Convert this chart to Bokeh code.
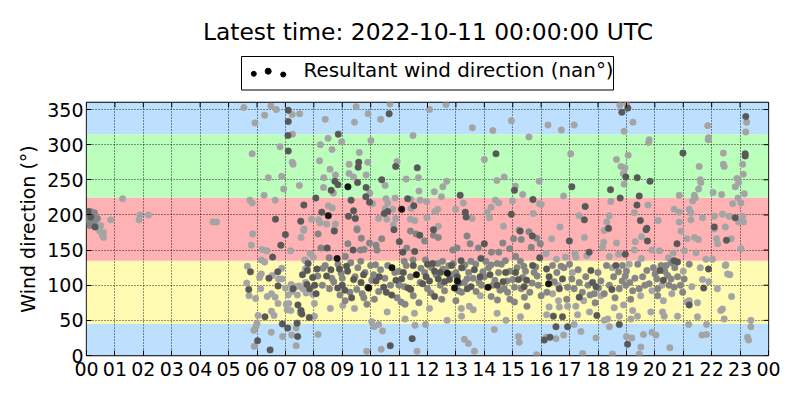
from bokeh.plotting import figure
from bokeh.models import FixedTicker, Range1d
from bokeh.layouts import column
from bokeh.embed import file_html
from bokeh.resources import INLINE
from bokeh.core.properties import value

FONT = "DejaVu Sans"

title_text = "Latest time: 2022-10-11 00:00:00 UTC"
legend_label = "Resultant wind direction (nan°)"
y_label = "Wind direction (°)"

hour_ticks = list(range(0, 25))
hour_labels = ["%02d" % (h % 24) for h in hour_ticks]
dir_ticks = [0, 50, 100, 150, 200, 250, 300, 350]

band_bottoms = [0, 45, 135, 225, 315]
band_tops = [45, 135, 225, 315, 360]
band_colors = ["#bde0fe", "#fffbb2", "#ffb2b4", "#bcffbc", "#bde0fe"]

# (hour of day, wind direction in degrees) grouped by marker shade
light_pts = [
    (0.35, 185), (0.45, 178), (0.5, 185), (0.55, 172), (0.6, 175), (0.6, 168), (0.42, 181),
    (0.85, 193), (1.27, 223), (1.88, 200), (2.18, 200), (1.85, 193), (4.45, 190), (4.58, 190),
    (5.54, 353), (6.27, 342), (5.93, 331), (6.49, 355), (6.68, 350), (7.24, 343), (7.5, 344),
    (7.25, 315), (6.81, 297), (5.83, 287), (7.24, 275), (7.27, 272), (6.4, 253), (6.87, 255),
    (7.49, 242), (6.94, 237), (6.25, 228), (5.75, 221), (5.83, 217), (6.64, 221), (7.92, 194),
    (7.65, 180), (5.85, 173), (5.8, 157), (7.64, 178), (7.55, 168), (6.18, 151), (6.34, 149),
    (7.18, 149), (6.15, 136), (6.27, 133), (7.71, 135), (7.98, 140), (5.66, 127), (5.64, 103),
    (5.72, 85), (5.95, 81), (6.09, 111), (6.13, 95), (6.15, 116), (6.54, 114), (6.76, 109),
    (6.87, 124), (6.88, 109), (6.36, 84), (6.51, 88), (6.64, 83), (6.74, 74), (6.51, 63),
    (6.6, 57), (6.04, 57), (6.0, 46), (5.96, 41), (5.89, 36), (5.9, 13), (6.5, 33), (6.9, 27),
    (7.22, 29), (7.38, 14), (7.38, 39), (7.12, 74), (7.03, 73), (7.19, 64), (7.52, 61),
    (8.02, 56), (7.06, 65), (7.0, 96), (7.23, 91), (7.42, 86), (7.2, 101), (7.37, 98),
    (7.48, 99), (7.61, 95), (7.73, 89), (7.71, 104), (7.96, 87), (8.02, 74), (7.68, 136),
    (7.87, 145), (7.7, 123), (7.76, 125), (7.1, 86),
    (9.49, 354), (10.68, 358), (9.91, 344), (10.35, 336), (8.4, 336), (9.43, 332), (12.07, 350),
    (12.65, 357), (13.58, 324), (14.3, 320), (14.95, 334), (15.57, 311), (11.49, 313), (8.5, 309),
    (8.98, 304), (8.23, 300), (10.01, 306), (8.64, 293), (9.6, 289), (14.0, 279), (8.2, 277),
    (9.24, 272), (9.9, 275), (10.93, 276), (8.57, 265), (9.24, 259), (8.76, 257), (9.4, 254),
    (9.84, 257), (8.35, 253), (10.51, 242), (11.25, 251), (11.68, 253), (12.68, 248), (12.54, 240),
    (12.24, 233), (11.7, 234), (8.69, 231), (9.97, 231), (8.34, 239), (14.44, 249), (14.7, 254),
    (15.09, 241), (15.35, 229), (15.93, 248), (12.49, 226), (10.54, 223), (10.86, 224), (11.41, 222),
    (11.74, 221), (11.97, 219), (10.07, 216), (10.6, 217), (13.26, 217), (14.39, 221), (14.51, 217),
    (14.99, 220), (15.94, 216), (8.51, 213), (8.65, 210), (8.17, 193), (8.22, 189), (8.45, 187),
    (8.76, 187), (10.51, 209), (10.78, 208), (11.42, 209), (10.88, 195), (10.57, 194), (10.28, 195),
    (11.4, 194), (11.55, 192), (11.98, 196), (12.26, 205), (12.36, 208), (12.99, 208), (13.57, 195),
    (14.1, 204), (14.18, 196), (14.24, 211), (15.72, 202), (16.0, 215), (10.8, 186), (12.38, 184),
    (9.52, 181), (8.72, 179), (14.67, 184), (15.21, 179),
    (14.45, 60), (15.27, 55), (14.76, 50), (8.58, 67), (9.02, 71), (9.43, 67), (10.58, 62),
    (11.21, 52), (11.54, 60), (12.07, 67), (12.69, 50), (13.19, 67), (13.2, 56), (13.47, 70),
    (13.61, 65), (13.86, 85), (10.04, 48), (10.12, 41), (10.28, 44), (10.42, 35), (11.56, 43),
    (11.93, 44), (8.15, 30), (13.3, 23), (13.44, 17), (14.35, 37), (15.2, 27), (15.23, 19),
    (9.86, 6), (10.37, 9), (11.63, 6), (13.65, 6), (15.84, 1),
    (16.24, 328), (16.71, 321), (17.16, 328), (18.77, 356), (19.01, 358), (19.23, 332), (18.92, 319),
    (19.8, 307), (19.78, 303), (21.86, 327), (21.89, 310), (21.88, 307), (23.23, 332), (23.2, 318),
    (17.04, 287), (18.65, 279), (19.06, 285), (18.81, 269), (18.95, 267), (18.89, 259), (18.92, 244),
    (22.41, 288), (21.56, 269), (22.41, 272), (22.44, 269), (23.09, 272), (23.11, 258), (21.6, 250),
    (21.62, 246), (21.54, 237), (22.89, 252), (22.95, 246), (22.83, 240), (23.15, 230), (16.79, 227),
    (18.45, 219), (20.86, 228), (21.39, 228), (21.42, 224), (21.33, 220), (22.05, 232), (22.35, 229),
    (22.93, 224), (23.03, 217), (22.74, 216), (19.76, 214), (19.28, 203), (20.68, 208), (20.86, 204),
    (21.21, 208), (21.27, 203), (17.34, 199), (18.4, 199), (18.31, 190), (20.12, 192), (20.86, 190),
    (21.27, 193), (21.68, 196), (22.09, 198), (22.38, 201), (22.62, 198), (23.09, 198), (23.12, 190),
    (22.95, 190), (16.66, 183), (22.48, 183),
    (16.37, 166), (17.52, 168), (18.2, 161), (18.22, 178), (18.37, 180), (18.65, 160), (19.31, 162),
    (19.53, 169), (20.92, 177), (21.13, 166), (21.39, 168), (21.53, 165), (22.09, 180), (22.17, 166),
    (22.21, 159), (22.69, 166), (23.03, 152), (16.17, 145), (16.54, 137), (16.85, 140), (17.19, 145),
    (17.22, 140), (17.61, 142), (18.16, 154), (18.4, 141), (18.72, 144), (19.28, 150), (19.53, 138),
    (19.9, 150), (20.16, 149), (20.48, 139), (20.65, 146), (21.04, 149), (21.45, 146), (21.8, 137),
    (22.03, 137), (22.5, 129), (22.64, 115), (21.13, 76), (21.21, 78), (21.5, 75), (21.68, 108),
    (20.8, 56), (20.33, 56), (20.27, 62), (19.86, 62), (19.39, 56), (19.22, 64), (19.16, 52),
    (18.57, 68), (18.75, 56), (18.34, 52), (18.22, 50), (17.28, 58), (17.22, 70), (16.93, 70),
    (16.19, 58), (16.28, 69), (16.64, 69), (16.61, 78), (17.16, 44), (17.4, 34), (16.79, 29),
    (16.17, 26), (16.52, 24), (17.93, 25), (18.4, 41), (19.0, 27), (19.19, 25), (19.51, 12),
    (19.6, 30), (19.9, 33), (20.04, 29), (20.53, 11), (21.19, 44), (21.66, 29), (21.82, 30),
    (21.82, 44), (22.32, 64), (22.38, 66), (22.44, 52), (22.48, 128), (22.56, 116), (23.38, 50),
    (23.38, 41), (23.26, 26), (23.3, 22), (17.46, 3), (18.51, 2), (19.45, 2),
    (16.6, 100), (17.1, 118), (17.5, 78), (18.1, 85), (18.5, 125), (19.1, 130), (19.5, 85),
    (19.9, 92), (20.25, 100), (20.6, 88), (21.0, 120), (21.3, 98), (21.6, 125), (21.9, 105),
    (22.2, 95), (20.3, 78), (18.9, 72), (17.7, 62), (16.4, 88), (21.5, 55), (22.7, 84),
]

mid_pts = [
    (0.05, 200), (0.1, 195), (0.15, 205), (0.2, 200), (0.25, 198), (0.1, 190), (0.2, 188),
    (0.3, 192), (0.38, 195), (0.05, 193), (0.28, 203), (0.12, 185),
    (8.15, 173), (9.2, 159), (9.52, 179), (9.67, 167), (9.96, 160), (8.25, 153), (9.64, 150),
    (9.77, 151), (10.22, 150), (10.19, 157), (10.39, 166), (11.27, 153), (11.4, 177), (11.6, 173),
    (11.9, 163), (12.21, 171), (12.38, 168), (12.89, 150), (13.04, 153), (13.39, 170), (13.5, 159),
    (13.79, 153), (14.25, 147), (14.51, 147), (14.65, 160), (14.89, 152), (15.3, 165), (15.03, 166),
    (15.57, 176), (15.84, 167), (15.65, 154), (15.97, 159), (8.54, 139), (9.11, 141), (9.65, 134),
    (10.17, 129), (11.18, 134), (11.49, 136), (11.77, 124), (11.93, 136), (12.36, 131), (12.53, 134),
    (12.91, 131), (13.32, 129), (13.53, 134), (14.05, 134), (14.24, 129), (14.45, 131), (14.74, 135),
    (15.1, 141), (15.27, 134), (15.39, 127), (15.81, 126), (8.32, 124), (8.63, 110), (8.96, 117),
    (8.14, 113), (8.55, 95), (8.92, 86), (9.27, 90), (9.51, 94), (9.76, 82), (10.04, 107),
    (10.28, 91), (10.13, 80), (9.87, 73), (10.99, 120), (11.19, 98), (10.93, 82), (11.07, 76),
    (11.21, 73), (11.74, 104), (12.12, 89), (12.54, 123), (12.65, 119), (13.2, 90), (13.3, 104),
    (13.39, 109), (13.71, 91), (13.81, 105), (13.95, 119), (14.24, 84), (14.37, 107), (14.46, 79),
    (14.55, 93), (14.8, 106), (15.06, 97), (15.35, 111), (15.68, 103), (15.86, 113), (16.0, 85),
    (15.41, 83), (15.06, 76), (14.82, 90),
    (8.3, 100), (8.4, 128), (8.7, 105), (8.85, 130), (9.0, 110), (9.3, 132), (9.45, 112),
    (9.55, 125), (9.8, 118), (10.0, 128), (10.1, 115), (10.35, 122), (10.5, 110), (10.6, 128),
    (10.85, 118), (11.0, 100), (11.25, 128), (11.4, 112), (11.5, 85), (11.9, 118), (12.0, 95),
    (12.15, 125), (12.3, 115), (12.45, 100), (12.6, 92), (12.75, 128), (12.85, 115), (13.0, 118),
    (13.1, 92), (13.25, 125), (13.45, 118), (13.6, 110), (13.7, 130), (13.9, 100), (14.0, 112),
    (14.15, 125), (14.3, 100), (14.5, 118), (14.6, 130), (14.7, 95), (14.9, 120), (15.0, 108),
    (15.15, 125), (15.3, 95), (15.45, 120), (15.6, 90), (15.75, 118), (15.9, 100), (9.1, 78),
    (10.7, 100), (12.5, 80), (13.0, 78), (14.9, 80), (15.5, 70), (11.7, 75), (9.7, 88),
    (16.4, 128), (16.7, 127), (16.46, 105), (16.93, 97), (17.08, 109), (17.16, 95), (17.34, 104),
    (17.57, 112), (18.1, 106), (17.72, 86), (17.87, 88), (18.02, 96), (18.22, 88), (18.55, 112),
    (18.72, 119), (18.86, 128), (18.96, 113), (19.12, 104), (18.98, 100), (18.75, 95), (19.22, 92),
    (19.45, 95), (19.57, 112), (19.72, 121), (19.8, 102), (20.01, 116), (20.22, 128), (20.07, 109),
    (20.1, 95), (20.45, 114), (20.57, 109), (20.68, 97), (20.57, 132), (20.8, 112), (20.98, 90),
    (21.03, 109), (21.21, 130),
    (16.2, 90), (16.55, 118), (16.8, 125), (17.0, 130), (17.3, 122), (17.45, 90), (17.65, 100),
    (18.0, 118), (18.3, 128), (18.4, 100), (18.6, 82), (18.85, 106), (19.0, 120), (19.3, 110),
    (19.4, 130), (19.65, 100), (19.95, 125), (20.1, 85), (20.35, 120), (20.5, 100), (20.7, 125),
    (20.9, 100), (20.4, 128), (19.15, 80), (17.9, 75), (16.9, 80),
]

dark_pts = [
    (0.05, 205), (0.15, 197), (0.3, 183),
    (7.1, 349), (7.1, 333), (7.09, 313), (7.1, 291), (7.65, 214), (6.65, 194), (7.54, 191),
    (8.07, 224), (7.0, 172), (6.84, 157), (6.55, 140), (5.77, 119), (5.71, 94), (6.42, 110),
    (6.73, 119), (6.74, 99), (6.28, 55), (6.02, 21), (6.46, 8), (6.89, 45), (7.08, 39),
    (7.43, 27), (7.41, 46), (7.58, 59), (7.84, 54), (7.55, 64), (7.44, 72), (7.27, 95),
    (7.76, 101), (7.85, 95), (8.03, 100), (7.6, 115), (7.77, 121), (7.8, 131), (7.96, 111),
    (8.11, 123),
    (10.65, 344), (8.86, 315), (14.41, 287), (9.58, 275), (9.56, 268), (10.88, 269), (11.64, 267),
    (8.74, 248), (8.85, 243), (9.54, 246), (10.39, 250), (9.84, 239), (8.61, 235), (15.06, 235),
    (13.15, 228), (9.83, 226), (9.31, 221), (11.3, 223), (9.96, 218), (15.71, 222), (8.28, 204),
    (9.4, 206), (9.22, 198), (9.46, 195), (10.6, 205), (10.48, 202), (11.52, 213), (13.33, 204),
    (13.36, 197), (14.95, 201),
    (8.72, 177), (8.47, 153), (9.38, 150), (10.82, 179), (11.01, 162), (11.13, 147), (11.55, 148),
    (11.73, 171), (12.21, 179), (14.0, 159), (15.26, 177), (15.69, 170), (12.18, 131), (13.18, 135),
    (13.88, 138), (15.95, 139), (8.45, 113), (9.15, 127), (9.19, 120), (8.9, 123), (8.08, 88),
    (8.84, 96), (9.09, 93), (9.33, 82), (9.66, 104), (9.9, 97), (10.19, 106), (10.46, 97),
    (10.74, 86), (10.89, 107), (11.09, 109), (11.32, 96), (11.41, 94), (11.83, 102), (12.07, 106),
    (12.25, 84), (12.38, 109), (12.77, 108), (13.09, 103), (13.53, 98), (14.66, 105), (15.2, 108),
    (15.49, 107), (11.46, 24), (10.69, 14),
    (8.6, 122), (9.0, 100), (9.4, 108), (9.75, 115), (10.3, 112), (10.55, 90), (11.15, 118),
    (11.5, 128), (11.95, 112), (12.25, 120), (12.6, 105), (12.85, 128), (13.05, 112), (13.2, 125),
    (13.4, 95), (13.65, 122), (13.85, 112), (14.2, 115), (14.45, 100), (14.75, 118), (15.1, 118),
    (15.4, 98), (15.7, 128), (12.0, 130), (12.45, 118),
    (23.2, 340), (18.84, 346), (19.05, 352), (18.98, 254), (19.38, 253), (19.83, 248), (20.99, 288),
    (23.18, 287), (23.18, 284), (17.08, 240), (18.44, 236), (18.78, 224), (19.45, 227), (17.55, 212),
    (19.37, 214), (17.52, 193), (19.49, 192), (22.83, 196), (18.37, 181), (19.72, 181), (22.09, 183),
    (16.99, 163), (19.74, 163), (19.69, 179), (20.78, 159), (22.52, 164), (17.69, 147), (18.96, 144),
    (20.8, 133), (16.19, 123), (16.28, 112), (16.75, 109), (16.64, 95), (17.75, 121), (17.81, 104),
    (17.93, 98), (17.34, 83), (18.49, 94), (18.63, 128), (20.18, 121), (20.3, 107), (20.68, 135),
    (21.72, 96), (21.89, 123), (21.21, 72), (17.96, 57), (16.75, 55), (16.43, 56), (16.52, 41),
    (16.93, 41), (16.11, 22), (16.31, 26), (18.75, 44), (19.04, 16),
]

black_pts = [
    (9.2, 240), (8.51, 199), (11.09, 208),
    (8.82, 138), (10.75, 125), (11.61, 115), (9.93, 96), (12.95, 96), (14.13, 97),
    (12.7, 117), (13.05, 106), (16.26, 102),
]

shade_series = [
    (light_pts, "#a4a4a4"),
    (mid_pts, "#858585"),
    (dark_pts, "#585858"),
    (black_pts, "#151515"),
]

# page geometry (pixels)
FIG_W = 800
BORDER_L, BORDER_R = 86, 32
TOP_H = 94
MAIN_H = 304
BORDER_T, BORDER_B = 8, 43
FRAME_W = FIG_W - BORDER_L - BORDER_R
FRAME_H = MAIN_H - BORDER_T - BORDER_B
TICK_PX = 5

# ---------- title + legend strip (data units = pixels from frame left / strip bottom) ----------
top = figure(width=FIG_W, height=TOP_H, x_range=Range1d(0, FRAME_W), y_range=Range1d(0, TOP_H),
             x_axis_type=None, y_axis_type=None, output_backend="svg",
             toolbar_location=None, min_border_left=BORDER_L, min_border_right=BORDER_R,
             min_border_top=0, min_border_bottom=0)
top.grid.visible = False
top.outline_line_color = None
top.text(x=[341.5], y=[62.4], text=[title_text], text_align="center",
         text_baseline="alphabetic", text_font=value(FONT), text_font_size="23.4px",
         text_color="black")
top.quad(left=[155], right=[527], bottom=[4.5], top=[38], fill_color="white",
         line_color="black", line_width=1)
top.scatter(x=[167.3, 181.7, 196.7], y=[20.7, 23.3, 20.0], size=[5, 6, 5],
            fill_color="black", line_color="black")
top.text(x=[217], y=[24.0], text=[legend_label], text_align="left",
         text_baseline="alphabetic", text_font=value(FONT), text_font_size="19.9px",
         text_color="black")

# ---------- main scatter ----------
p = figure(width=FIG_W, height=MAIN_H, x_range=Range1d(0, 24), y_range=Range1d(0, 360),
           output_backend="svg", toolbar_location=None,
           min_border_left=BORDER_L, min_border_right=BORDER_R,
           min_border_top=BORDER_T, min_border_bottom=BORDER_B)

p.quad(left=0, right=24, bottom=band_bottoms, top=band_tops, fill_color=band_colors,
       line_color=None, level="image")

for pts, col in shade_series:
    xs = [t for t, d in pts]
    ys = [d for t, d in pts]
    p.scatter(xs, ys, size=6.5, fill_color=col, line_color=col, line_width=0.5)

p.xgrid.ticker = FixedTicker(ticks=hour_ticks)
p.ygrid.ticker = FixedTicker(ticks=dir_ticks)
for g in (p.xgrid, p.ygrid):
    g.grid_line_color = "black"
    g.grid_line_dash = "1 2"
    g.grid_line_width = 1
    g.grid_line_alpha = 0.85

# inward ticks on the top and right edges (mirrors of the bottom/left ticks)
tick_dy = TICK_PX * 360 / FRAME_H
tick_dx = TICK_PX * 24 / FRAME_W
p.segment(x0=hour_ticks, y0=[360] * len(hour_ticks), x1=hour_ticks,
          y1=[360 - tick_dy] * len(hour_ticks), line_color="black", line_width=1)
p.segment(x0=[24] * len(dir_ticks), y0=dir_ticks, x1=[24 - tick_dx] * len(dir_ticks),
          y1=dir_ticks, line_color="black", line_width=1)

xax = p.below[0]
yax = p.left[0]
xax.ticker = FixedTicker(ticks=hour_ticks)
xax.major_label_overrides = {h: lab for h, lab in zip(hour_ticks, hour_labels)}
yax.ticker = FixedTicker(ticks=dir_ticks)
yax.axis_label = y_label

for ax in (xax, yax):
    ax.axis_line_color = None
    ax.major_tick_in = TICK_PX
    ax.major_tick_out = 0
    ax.major_tick_line_color = "black"
    ax.minor_tick_line_color = None
    ax.major_label_text_font = FONT
    ax.major_label_text_color = "black"
    ax.major_label_text_font_size = "19px"
    ax.axis_label_text_font = FONT
    ax.axis_label_text_color = "black"

xax.major_label_standoff = 6
yax.major_label_standoff = 3
yax.axis_label_text_font_size = "19px"
yax.axis_label_text_font_style = "normal"
yax.axis_label_standoff = 5

p.outline_line_color = "black"
p.outline_line_width = 1.3
p.background_fill_color = "white"
p.border_fill_color = "white"

layout = column(top, p, spacing=0)

with open("out.html", "w") as f:
    f.write(file_html(layout, INLINE))
